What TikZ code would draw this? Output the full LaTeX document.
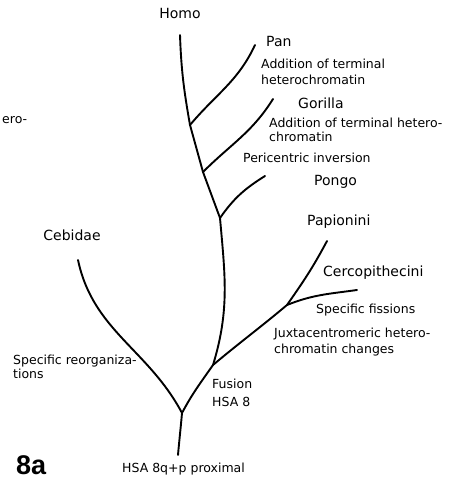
\documentclass[tikz,border=0pt]{standalone}
\usepackage{fontspec}
\setmainfont{DejaVu Sans}
\newfontfamily\panelfont{Liberation Sans}
\usetikzlibrary{positioning}

\begin{document}
\begin{tikzpicture}[x=1pt, y=1pt,
    every node/.style={inner sep=0pt, font=\fontsize{12.5}{16}\selectfont},
    taxon/.style={font=\fontsize{14}{16}\selectfont},
    note/.style={anchor=west, align=left},
    branch/.style={line width=1.9pt, line cap=round}]
    \useasboundingbox (0,0) rectangle (473,481);
    % junctions and tips of the tree
    \coordinate (root) at (178,26);
    \coordinate (split) at (182,68);
    \coordinate (cebtip) at (78,221);
    \coordinate (owm) at (213,116);
    \coordinate (cerj) at (287,176);
    \coordinate (paptip) at (327,240);
    \coordinate (certip) at (357,191);
    \coordinate (pongoj) at (220,263);
    \coordinate (pongotip) at (265,305);
    \coordinate (gorj) at (203,309);
    \coordinate (gortip) at (273,382);
    \coordinate (panj) at (190,356);
    \coordinate (pantip) at (255,436);
    \coordinate (homotip) at (180,446);
    % branches
    \draw[branch] (root) to[out=85,in=-95] (split);
    \draw[branch] (split) to[out=118,in=-78] (cebtip);
    \draw[branch] (split) to[out=62,in=-125] (owm);
    \draw[branch] (owm) to[out=40,in=-140] (cerj);
    \draw[branch] (cerj) to[out=55,in=-118] (paptip);
    \draw[branch] (cerj) to[out=22,in=188] (certip);
    \draw[branch] (owm) to[out=73,in=-85] (pongoj);
    \draw[branch] (pongoj) to[out=55,in=-148] (pongotip);
    \draw[branch] (pongoj) -- (gorj);
    \draw[branch] (gorj) to[out=45,in=-122] (gortip);
    \draw[branch] (gorj) -- (panj);
    \draw[branch] (panj) to[out=50,in=-115] (pantip);
    \draw[branch] (panj) to[out=100,in=-88] (homotip);
    % labels
    \node[taxon] (homo) at (180,467) {Homo};
    \node[taxon, anchor=west] (pan) at (266,439) {Pan};
    \node[note] (pannote) at (261,409.5) {Addition of terminal\\heterochromatin};
    \node[taxon, anchor=west] (gorilla) at (298,378) {Gorilla};
    \node[note, font=\fontsize{12.5}{14}\selectfont] (gornote) at (269,351) {Addition of terminal hetero-\\chromatin};
    \node[note] (peri) at (243,323) {Pericentric inversion};
    \node[taxon, anchor=west] (pongo) at (314,299) {Pongo};
    \node[taxon, anchor=west] (papio) at (307,259) {Papionini};
    \node[taxon, anchor=west] (cerco) at (323,208) {Cercopithecini};
    \node[note] (fission) at (316,171) {Specific fissions};
    \node[note] (juxta) at (274,139) {Juxtacentromeric hetero-\\chromatin changes};
    \node[note, font=\fontsize{12.5}{18}\selectfont] (fusion) at (212,88.5) {Fusion\\HSA 8};
    \node[note, font=\fontsize{12.5}{14}\selectfont] (reorg) at (13,114.5) {Specific reorganiza-\\tions};
    \node[taxon] (cebidae) at (72,246) {Cebidae};
    \node[note] (ero) at (2,361) {ero-};
    \node[anchor=west, font=\panelfont\bfseries\fontsize{27}{30}\selectfont] (panel) at (16,16) {8a};
    \node[note] (hsa) at (122,12) {HSA 8q+p proximal};
\end{tikzpicture}
\end{document}
